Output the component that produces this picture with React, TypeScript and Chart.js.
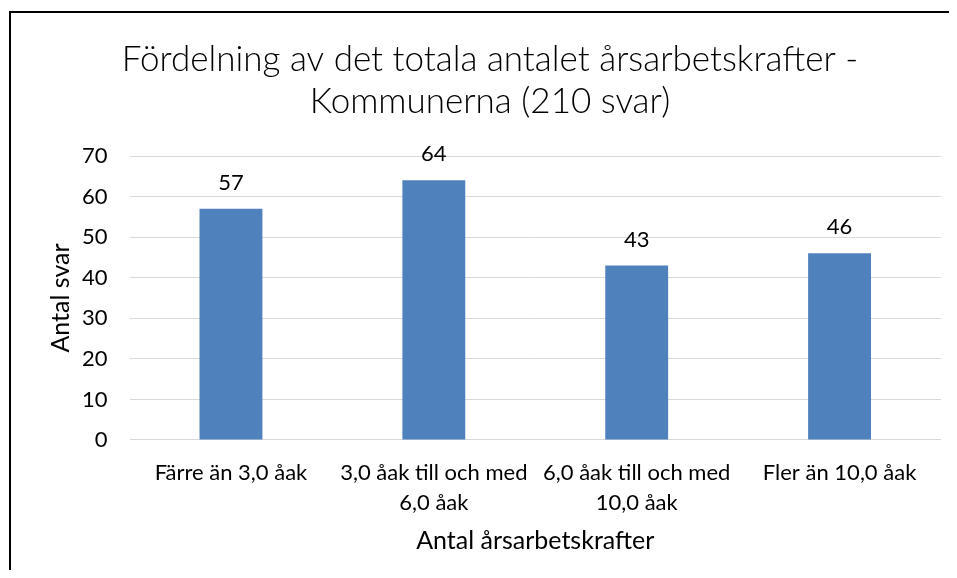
import React, { useEffect, useRef } from "react";
import { Chart, registerables } from "chart.js";

Chart.register(...registerables);

const titleLines = ["Fördelning av det totala antalet årsarbetskrafter -", "Kommunerna (210 svar)"];
const categories: (string | string[])[] = [
  "Färre än 3,0 åak",
  ["3,0 åak till och med", "6,0 åak"],
  ["6,0 åak till och med", "10,0 åak"],
  "Fler än 10,0 åak",
];
const values = [57, 64, 43, 46];
const yTitle = "Antal svar";
const xTitle = "Antal årsarbetskrafter";
const yMin = 0;
const yMax = 70;
const yStep = 10;

const FONT = "Lato, 'Open Sans', sans-serif";

const dataLabelPlugin = {
  id: "dataLabels",
  afterDatasetsDraw(chart: any) {
    const ctx = chart.ctx;
    ctx.save();
    ctx.font = `22px ${FONT}`;
    ctx.fillStyle = "#000";
    ctx.textAlign = "center";
    ctx.textBaseline = "middle";
    chart.data.datasets.forEach((ds: any, i: number) => {
      const meta = chart.getDatasetMeta(i);
      meta.data.forEach((el: any, j: number) => {
        ctx.fillText(String(ds.data[j]), el.x, el.y - 26);
      });
    });
    ctx.restore();
  },
};

export default function App() {
  const ref = useRef<HTMLCanvasElement>(null);
  useEffect(() => {
    document.body.style.overflow = "hidden";
    document.documentElement.style.overflow = "hidden";
    const chart = new Chart(ref.current!, {
      type: "bar",
      data: {
        labels: categories,
        datasets: [
          {
            data: values,
            backgroundColor: "#4F81BD",
            categoryPercentage: 0.31,
            barPercentage: 1,
          },
        ],
      },
      options: {
        animation: false,
        responsive: true,
        maintainAspectRatio: false,
        layout: { padding: { left: 28, right: 28, top: 0, bottom: 0 } },
        plugins: {
          legend: { display: false },
          tooltip: { enabled: false },
          title: {
            display: true,
            text: titleLines,
            color: "#000",
            font: { family: FONT, size: 35, weight: 300, lineHeight: 1.2 },
            padding: { top: 26, bottom: 33 },
          },
        },
        scales: {
          x: {
            grid: { display: false, drawTicks: false },
            border: { display: false },
            ticks: {
              color: "#000",
              padding: 18,
              maxRotation: 0,
              autoSkip: false,
              font: { family: FONT, size: 22, lineHeight: 1.364 },
            },
            title: {
              display: true,
              text: xTitle,
              color: "#000",
              font: { family: FONT, size: 25, lineHeight: 1.2 },
              padding: { top: -10, bottom: 14 },
            },
          },
          y: {
            min: yMin,
            max: yMax,
            grid: { color: "#D9D9D9", lineWidth: 1, drawTicks: false },
            border: { display: false },
            ticks: {
              stepSize: yStep,
              color: "#000",
              padding: 22,
              font: { family: FONT, size: 22 },
            },
            title: {
              display: true,
              text: yTitle,
              color: "#000",
              font: { family: FONT, size: 25, lineHeight: 1.2 },
              padding: { top: 7, bottom: -16 },
            },
          },
        },
      },
      plugins: [dataLabelPlugin],
    });
    return () => chart.destroy();
  }, []);

  return (
    <div
      style={{
        marginLeft: 1,
        marginTop: 3,
        borderLeft: "2px solid #000",
        borderTop: "2px solid #000",
        width: 958,
        height: 557,
        position: "relative",
      }}
    >
      <canvas ref={ref} />
    </div>
  );
}
